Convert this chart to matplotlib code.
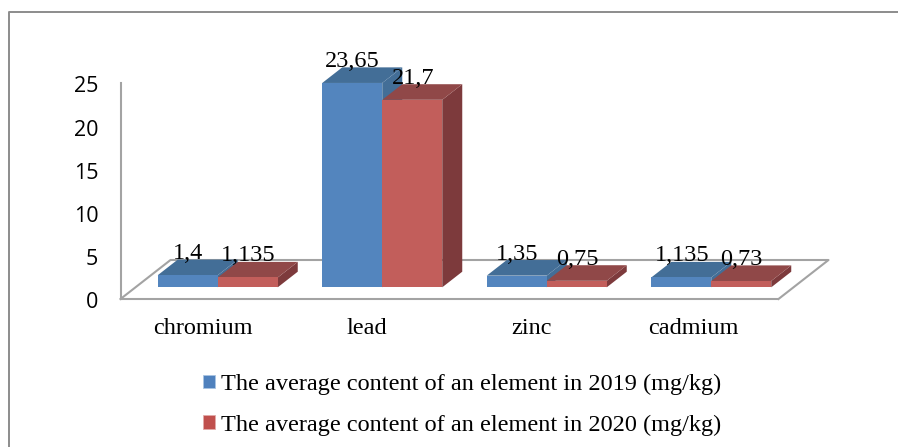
"""
Average element content, 2019 vs 2020 (Excel style 3D column look).
"""

import matplotlib
matplotlib.use("Agg")
import matplotlib.pyplot as plt
from matplotlib.patches import Patch, Polygon
from matplotlib.transforms import ScaledTranslation

categories = ["chromium", "lead", "zinc", "cadmium"]
values_2019 = [1.4, 23.65, 1.35, 1.135]
values_2020 = [1.135, 21.7, 0.75, 0.73]
labels_2019 = ["1,4", "23,65", "1,35", "1,135"]
labels_2020 = ["1,135", "21,7", "0,75", "0,73"]
series_names = [
    "The average content of an element in 2019 (mg/kg)",
    "The average content of an element in 2020 (mg/kg)",
]
y_ticks = [0, 5, 10, 15, 20, 25]

W, H = 898, 447
SERIF = "Liberation Serif"
TEXT_SIZE = 17.5
GRID = "#A3A3A3"

# depth of the floor, in data units (50 px across, 39 px up)
DEPTH_X = 50 / 164.5
DEPTH_Y = 39 / 8.64
BAR_WIDTH = 60 / 164.5
BAR_FRONT = 0.3
BAR_BACK = 0.7


def project(x, y, depth):
    return (x + depth * DEPTH_X, y + depth * DEPTH_Y)


def draw_bar(ax, left, value, front, side, top):
    right = left + BAR_WIDTH
    corners_front = [project(left, 0, BAR_FRONT), project(right, 0, BAR_FRONT),
                     project(right, value, BAR_FRONT), project(left, value, BAR_FRONT)]
    corners_side = [project(right, 0, BAR_FRONT), project(right, 0, BAR_BACK),
                    project(right, value, BAR_BACK), project(right, value, BAR_FRONT)]
    corners_top = [project(left, value, BAR_FRONT), project(right, value, BAR_FRONT),
                   project(right, value, BAR_BACK), project(left, value, BAR_BACK)]
    for pts, color in [(corners_side, side), (corners_top, top), (corners_front, front)]:
        ax.add_patch(Polygon(pts, closed=True, facecolor=color, edgecolor="none",
                             clip_on=False, zorder=3))


def label_bar(ax, left, value, text):
    # centred over the front face, sitting just above the back edge of the top
    x = project(left + BAR_WIDTH / 2, value, BAR_FRONT)[0]
    y = project(left, value, BAR_BACK)[1]
    ax.annotate(text, (x, y), xytext=(0.5, 6), textcoords="offset pixels",
                ha="center", va="center", family=SERIF, fontsize=TEXT_SIZE,
                color="black", zorder=5, annotation_clip=False)


def nudge(label, fig, dx, dy):
    label.set_transform(label.get_transform() + ScaledTranslation(dx / 100, dy / 100, fig.dpi_scale_trans))


fig = plt.figure(figsize=(W / 100, H / 100), dpi=100)
ax = fig.add_axes([120.5 / W, 1 - 299 / H, 658 / W, 216 / H])
ax.set_xlim(-0.5, 3.5)
ax.set_ylim(0, 25)
ax.patch.set_visible(False)

for name in ["top", "right"]:
    ax.spines[name].set_visible(False)
for name in ["left", "bottom"]:
    ax.spines[name].set_color(GRID)
    ax.spines[name].set_linewidth(1.5)

ax.set_yticks(y_ticks)
ax.set_xticks(range(len(categories)))
ax.set_xticklabels(categories, family=SERIF, fontsize=TEXT_SIZE)
ax.tick_params(axis="x", length=0, pad=14)
ax.tick_params(axis="y", length=0, pad=16, labelsize=15.5)
for tick in ax.get_yticklabels():
    tick.set_family("Open Sans")
    nudge(tick, fig, 0, -1.5)
nudge(ax.get_xticklabels()[3], fig, -3, 0)

# floor outline behind the bars
floor = [project(-0.5, 0, 0), project(-0.5, 0, 1), project(3.5, 0, 1), project(3.5, 0, 0)]
ax.plot([p[0] for p in floor], [p[1] for p in floor], color=GRID, lw=1.5,
        clip_on=False, zorder=1)

for i in range(len(categories)):
    left_2019 = i - BAR_WIDTH
    draw_bar(ax, left_2019, values_2019[i], "#5385BE", "#436E97", "#436E97")
    draw_bar(ax, i, values_2020[i], "#C25E5B", "#7D3A3C", "#904848")
    label_bar(ax, left_2019, values_2019[i], labels_2019[i])
    label_bar(ax, i, values_2020[i], labels_2020[i])

handles = [Patch(facecolor="#4F81BD", edgecolor="#A9C4E2", lw=0.6),
           Patch(facecolor="#C0504D", edgecolor="#E2ABA9", lw=0.6)]
fig.legend(handles, series_names, loc="upper left", bbox_to_anchor=(203 / W, 1 - 374 / H),
           frameon=False, prop={"family": SERIF, "size": TEXT_SIZE}, handlelength=0.5,
           handleheight=0.5, handletextpad=0.24, labelspacing=0.8,
           borderpad=0, borderaxespad=0)

# chart frame: only its top and left edges are inside the picture
frame_x = [8.5 / W, 8.5 / W, 1]
frame_y = [0, 1 - 12 / H, 1 - 12 / H]
fig.add_artist(plt.Line2D(frame_x, frame_y, transform=fig.transFigure,
                          color="#8C8C8C", lw=1.4))

fig.savefig("out.png", dpi=100)
